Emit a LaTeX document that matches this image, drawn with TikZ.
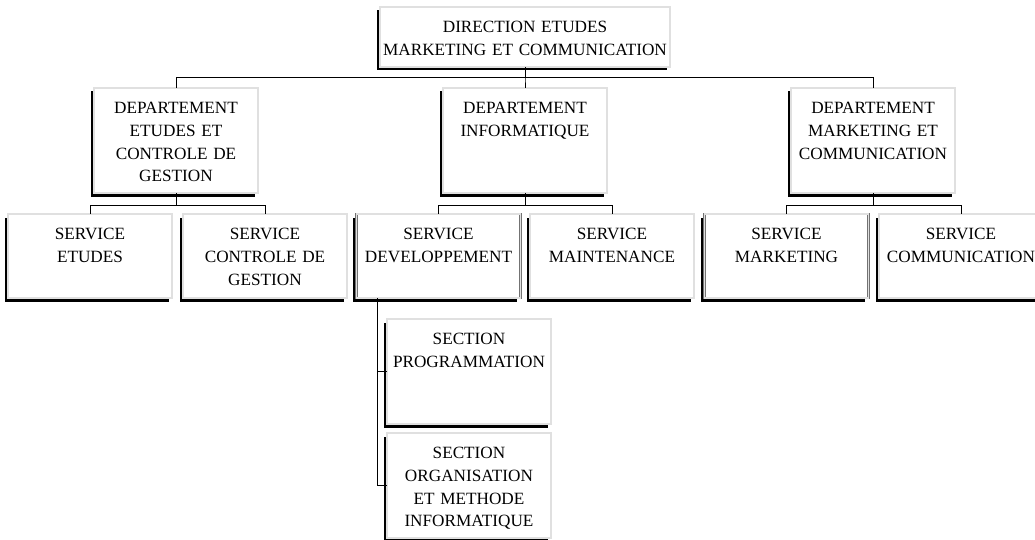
\documentclass[tikz,border=0pt]{standalone}
\usepackage{fontspec}
\setmainfont{Liberation Serif}
\usetikzlibrary{shadows}

\begin{document}
\begin{tikzpicture}[x=1pt, y=-1pt,
    box/.style={draw=black!55, double=black!12, double distance=1.4pt, line width=0.6pt, fill=white,
      drop shadow={shadow xshift=-3.5pt, shadow yshift=-3.5pt, fill=black, opacity=1},
      minimum width=164pt, text width=154pt, inner xsep=5pt, inner ysep=5pt, align=center,
      font=\fontsize{17.2}{22.8}\selectfont, text height=20.5pt},
    dept/.style={box, text depth=74.5pt},
    serv/.style={box, text depth=53.5pt},
    link/.style={line width=0.8pt}]
        \useasboundingbox (0,0) rectangle (1035,540);

        % Direction
        \node[box, minimum width=290pt, text width=286pt, inner xsep=2pt, text depth=29.5pt] (dir) at (525,37) {DIRECTION ETUDES\\MARKETING ET COMMUNICATION};

        % Departements
        \node[dept] (dep1) at (176,140.5) {DEPARTEMENT\\ETUDES ET\\CONTROLE DE\\GESTION};
        \node[dept] (dep2) at (525,140.5) {DEPARTEMENT\\INFORMATIQUE};
        \node[dept] (dep3) at (873,140.5) {DEPARTEMENT\\MARKETING ET\\COMMUNICATION};

        % Services
        \node[serv] (etu) at (90,256) {SERVICE\\ETUDES};
        \node[serv] (ctrl) at (265,256) {SERVICE\\CONTROLE DE\\GESTION};
        \node[serv] (dev) at (438.5,256) {SERVICE\\DEVELOPPEMENT};
        \node[serv] (maint) at (612,256) {SERVICE\\MAINTENANCE};
        \node[serv] (mark) at (786.5,256) {SERVICE\\MARKETING};
        \node[serv] (comm) at (961,256) {SERVICE\\COMMUNICATION};

        % Sections
        \node[dept] (prog) at (469,371.5) {SECTION\\PROGRAMMATION};
        \node[dept] (org) at (469,485.5) {SECTION\\ORGANISATION\\ET METHODE\\INFORMATIQUE};

        % Links direction -> departements
        \draw[link] (dir.south) -- ++(0,10) -| (dep1.north);
        \draw[link] (dir.south) -- ++(0,10) -| (dep2.north);
        \draw[link] (dir.south) -- ++(0,10) -| (dep3.north);

        % Links departements -> services
        \draw[link] (dep1.south) -- ++(0,12) -| (etu.north);
        \draw[link] (dep1.south) -- ++(0,12) -| (ctrl.north);
        \draw[link] (dep2.south) -- ++(0,12) -| (dev.north);
        \draw[link] (dep2.south) -- ++(0,12) -| (maint.north);
        \draw[link] (dep3.south) -- ++(0,12) -| (mark.north);
        \draw[link] (dep3.south) -- ++(0,12) -| (comm.north);

        % Links developpement -> sections
        \coordinate (devbus) at ([xshift=21pt]dev.south west);
        \draw[link] (devbus) |- (prog.west);
        \draw[link] (devbus) |- (org.west);
\end{tikzpicture}
\end{document}
